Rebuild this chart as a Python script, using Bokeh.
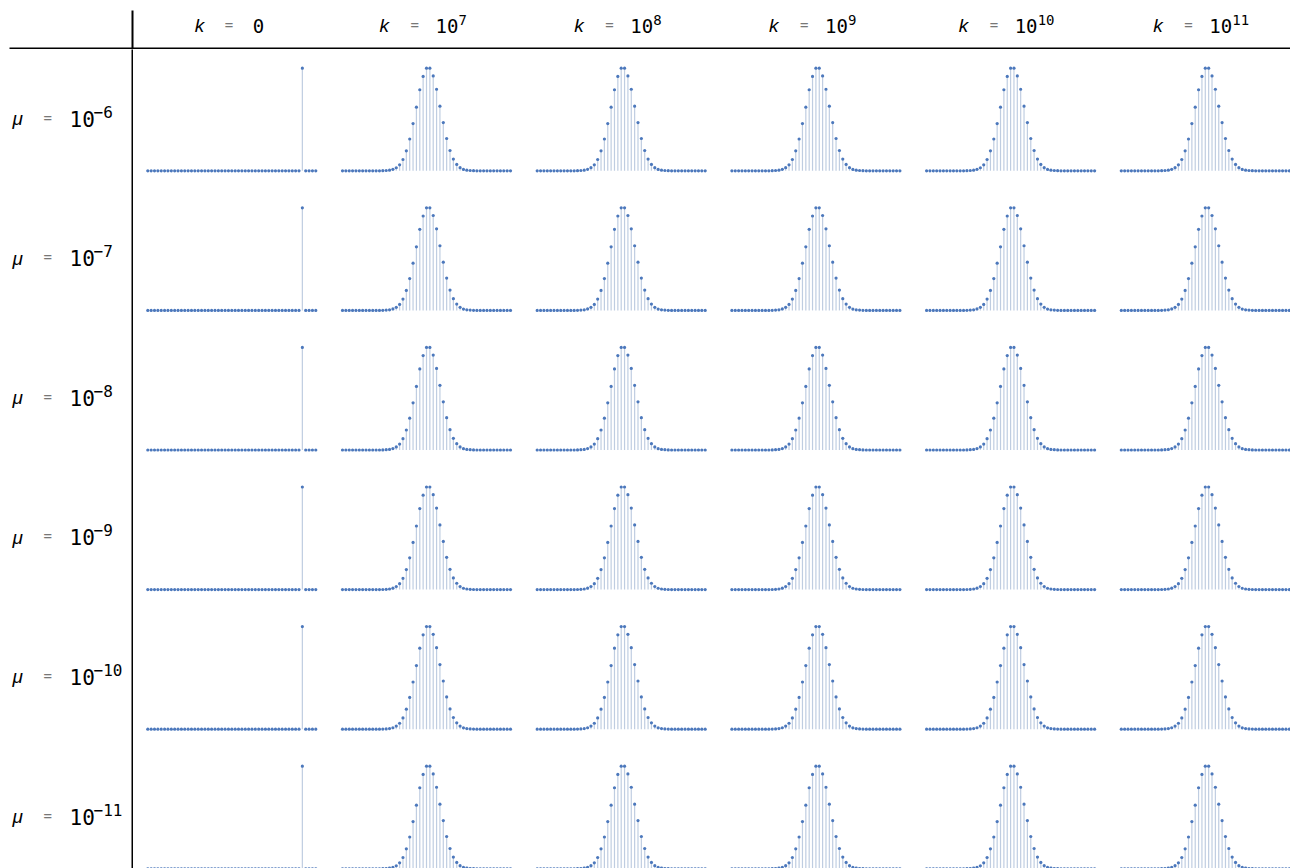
from bokeh.plotting import figure
from bokeh.models import Range1d, GridPlot
from bokeh.embed import file_html
from bokeh.resources import INLINE
from bokeh.core.properties import value

# ---------------- data ----------------
k_exponents = [None, "7", "8", "9", "10", "11"]          # column headers: k = 0, 10^7 ...
mu_exponents = ["-6", "-7", "-8", "-9", "-10", "-11"]    # row headers: mu = 10^-6 ...
index = list(range(51))
# k = 0: all mass on a single state
spike_dist = [0.0] * 46 + [1.0] + [0.0] * 4
# k > 0: bell shaped distribution (relative heights)
bell_dist = [0.0] * 12 + [0.001, 0.003, 0.006, 0.014, 0.03, 0.058, 0.11, 0.195, 0.31, 0.46,
                          0.62, 0.79, 0.92, 1.0, 1.0, 0.925, 0.795, 0.63, 0.47, 0.315,
                          0.198, 0.114, 0.062, 0.03, 0.013, 0.006, 0.003, 0.001] + [0.0] * 11

# ---------------- layout constants ----------------
TOTAL_W, TOTAL_H = 1290, 868
LABEL_W, HEAD_H = 133, 49
col_w = [194, 195, 195, 195, 195, 183]
row_h = [140, 139, 140, 140, 139, 121]
DX = 3.36          # px per index step
FIRST_X = 147.3    # px of first point in first column
COL_PITCH = 194.7
PEAK_H = 102.6     # px for value 1.0
BASE_Y = 170.3     # px of baseline of first row
ROW_PITCH = 139.6

PT_COLOR = "#4C78BC"
STEM_COLOR = "#5E81B5"
MONO = "DejaVu Sans Mono"
ITAL = "Liberation Sans"


def blank(w, h, xr, yr):
    p = figure(width=w, height=h, x_range=xr, y_range=yr, output_backend="svg",
               toolbar_location=None, min_border=0)
    p.axis.visible = False
    p.grid.visible = False
    p.outline_line_color = None
    p.background_fill_color = "white"
    p.border_fill_color = "white"
    return p


def txt(p, x, y, s, font, size, color="#000000", style="normal"):
    p.text(x=[x], y=[y], text=[s], text_font=value(font), text_font_size=f"{size}px",
           text_color=color, text_font_style=style, text_align="left",
           text_baseline="alphabetic")


children = []

# header strip (spans all columns)
head = blank(TOTAL_W, HEAD_H, Range1d(0, TOTAL_W), Range1d(HEAD_H, 0))
head.segment(x0=[9], y0=[48], x1=[TOTAL_W + 10], y1=[48], line_color="black", line_width=2)
head.segment(x0=[132], y0=[10], x1=[132], y1=[HEAD_H + 10], line_color="black", line_width=2)
for c, ke in enumerate(k_exponents):
    center = FIRST_X + c * COL_PITCH - 15.3 + 97.35
    base = 25
    if ke is None:
        left = center - 70 / 2
        txt(head, left, base, "k", ITAL, 19, style="italic")
        txt(head, left + 30, base - 1, "=", MONO, 14, color="#777777")
        txt(head, left + 58, base, "0", MONO, 19)
    else:
        left = center - (80 + 10 * len(ke)) / 2
        txt(head, left, base, "k", ITAL, 19, style="italic")
        txt(head, left + 31, base - 1, "=", MONO, 14, color="#777777")
        txt(head, left + 56, base, "10", MONO, 19)
        txt(head, left + 79, base - 6, ke, MONO, 14)
children.append((head, 0, 0, 1, 7))

# label strip (spans all panel rows)
LAB_H = TOTAL_H - HEAD_H
lab = blank(LABEL_W, LAB_H, Range1d(0, LABEL_W), Range1d(LAB_H, 0))
lab.segment(x0=[132], y0=[-10], x1=[132], y1=[LAB_H + 10], line_color="black", line_width=2)
for r, me in enumerate(mu_exponents):
    base = (BASE_Y + r * ROW_PITCH) - PEAK_H / 2 - HEAD_H - 1
    txt(lab, 12, base, "\u03bc", ITAL, 19, style="italic")
    txt(lab, 43, base - 1, "=", MONO, 14, color="#777777")
    txt(lab, 69, base, "10", MONO, 21)
    txt(lab, 93, base - 7, me.replace("-", "\u2212"), MONO, 16)
children.append((lab, 1, 0, 6, 1))

# panels
col_start = [LABEL_W]
for w in col_w[:-1]:
    col_start.append(col_start[-1] + w)
row_top = [HEAD_H]
for hh in row_h[:-1]:
    row_top.append(row_top[-1] + hh)

for r in range(len(mu_exponents)):
    hgt = row_h[r]
    b = BASE_Y + r * ROW_PITCH - row_top[r]
    y_top = b / PEAK_H
    y_bot = -(hgt - b) / PEAK_H
    for c in range(len(k_exponents)):
        w = col_w[c]
        fx = FIRST_X + c * COL_PITCH - col_start[c]
        x0 = -fx / DX
        dist = spike_dist if c == 0 else bell_dist
        p = blank(w, hgt, Range1d(x0, x0 + w / DX), Range1d(y_bot, y_top))
        p.segment(x0=index, y0=[0] * len(index), x1=index, y1=dist,
                  line_color=STEM_COLOR, line_alpha=0.4, line_width=1.2)
        p.scatter(x=index, y=dist, size=3.2, fill_color=PT_COLOR, line_color=None)
        children.append((p, r + 1, c + 1))

grid = GridPlot(children=children, toolbar_location=None, spacing=0)
open("out.html", "w").write(file_html(grid, INLINE))
